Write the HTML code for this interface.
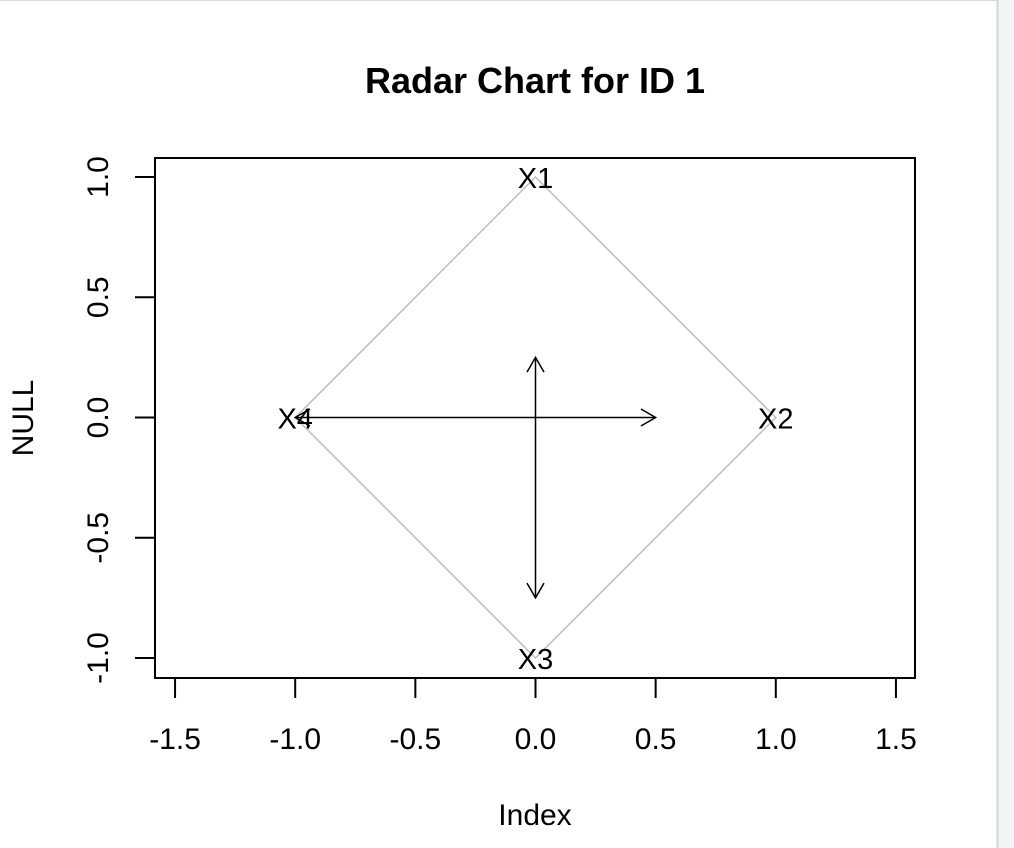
<!DOCTYPE html>
<html><head><meta charset="utf-8"><style>
html,body{margin:0;padding:0;background:#fff;width:1014px;height:848px;overflow:hidden}
svg{position:absolute;left:0;top:0}
text{font-family:"Liberation Sans",sans-serif;fill:#000}
</style></head><body>
<svg id="c" width="1014" height="848"></svg>
<script>
const axisNames=["X1","X2","X3","X4"];
const axisAngles=[90,0,-90,180];
const ringValues=[1,1,1,1];
const arrowValues=[0.25,0.5,0.75,1.0];
const xTicks=[-1.5,-1.0,-0.5,0.0,0.5,1.0,1.5];
const yTicks=[-1.0,-0.5,0.0,0.5,1.0];
const xTickLabels=["-1.5","-1.0","-0.5","0.0","0.5","1.0","1.5"];
const yTickLabels=["-1.0","-0.5","0.0","0.5","1.0"];

const NS="http://www.w3.org/2000/svg";
const svg=document.getElementById('c');
const X=v=>535.5+v*240.3;
const Y=v=>417.5-v*240.5;
function el(t,a,p){const e=document.createElementNS(NS,t);for(const k in a)e.setAttribute(k,a[k]);(p||svg).appendChild(e);return e;}

let e;
e=el('rect',{x:0,y:0,width:1014,height:848,fill:'#fff'});


e=el('rect',{x:998,y:0,width:16,height:848,fill:'#f3f4f6'});


e=el('line',{x1:997.5,y1:0,x2:997.5,y2:848,stroke:'#d4d6da','stroke-width':2});


e=el('line',{x1:0,y1:0.5,x2:998,y2:0.5,stroke:'#d9d9d9','stroke-width':1});



e=el('text',{x:535,y:93,'text-anchor':'middle',style:'font-size:36px;font-weight:bold'});
e.textContent='Radar Chart for ID 1';



e=el('rect',{x:155,y:158,width:760,height:520,fill:'none',stroke:'#000','stroke-width':2});



xTicks.forEach((v,i)=>{
  let t=el('line',{x1:X(v),y1:678,x2:X(v),y2:698,stroke:'#000','stroke-width':2});
  
  
  let l=el('text',{x:X(v),y:749,'text-anchor':'middle',style:'font-size:30px'});
  l.textContent=xTickLabels[i];
  
  
});
e=el('text',{x:535,y:825,'text-anchor':'middle',style:'font-size:30px'});
e.textContent='Index';



yTicks.forEach((v,i)=>{
  let t=el('line',{x1:135,y1:Y(v),x2:155,y2:Y(v),stroke:'#000','stroke-width':2});
  
  
  let l=el('text',{x:0,y:0,'text-anchor':'middle',style:'font-size:30px',transform:`translate(108,${Y(v)}) rotate(-90)`});
  l.textContent=yTickLabels[i];
  
  
});
e=el('text',{x:0,y:0,'text-anchor':'middle',style:'font-size:30px',transform:'translate(33,418) rotate(-90)'});
e.textContent='NULL';



const pts=axisAngles.map((a,i)=>{const r=a*Math.PI/180;return X(ringValues[i]*Math.cos(r)).toFixed(1)+','+Y(ringValues[i]*Math.sin(r)).toFixed(1);}).join(' ');
e=el('polygon',{points:pts,fill:'none',stroke:'#bebebe','stroke-width':1.5});



axisAngles.forEach((a,i)=>{
  const r=a*Math.PI/180;
  const x2=X(arrowValues[i]*Math.cos(r)), y2=Y(arrowValues[i]*Math.sin(r));
  const x1=X(0), y1=Y(0);
  const g=el('g',{});
  
  
  el('line',{x1,y1,x2,y2,stroke:'#000','stroke-width':1.5},g);
  const ang=Math.atan2(y2-y1,x2-x1), h=17, s=Math.PI/6;
  const p=`M${x2-h*Math.cos(ang-s)},${y2-h*Math.sin(ang-s)} L${x2},${y2} L${x2-h*Math.cos(ang+s)},${y2-h*Math.sin(ang+s)}`;
  el('path',{d:p,fill:'none',stroke:'#000','stroke-width':1.5},g);
});

axisAngles.forEach((a,i)=>{
  const r=a*Math.PI/180;
  const l=el('text',{x:X(Math.cos(r)),y:Y(Math.sin(r))+11,'text-anchor':'middle',style:'font-size:29px'});
  l.textContent=axisNames[i];
  
  
});
</script>
</body></html>
